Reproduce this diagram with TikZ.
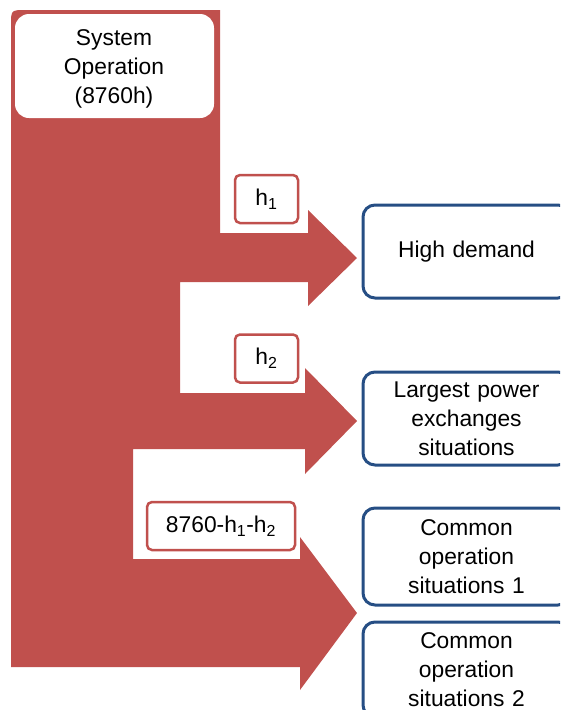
\documentclass[tikz,border=0pt]{standalone}
\usepackage{fontspec}
\setmainfont{Liberation Sans}
\usetikzlibrary{arrows,calc,positioning}
\definecolor{flowred}{RGB}{192,80,77}
\definecolor{caseblue}{RGB}{38,78,132}
\tikzset{
	hourbox/.style={draw=flowred,line width=2.5pt,fill=white,rounded corners=5pt,align=center,inner sep=0pt,minimum height=48pt},
	casebox/.style={draw=caseblue,line width=3pt,fill=white,rounded corners=12pt,align=center,inner sep=0pt,minimum width=207pt,text width=200pt},
}

\begin{document}
\begin{tikzpicture}[x=1pt,y=-1pt,font=\fontsize{22.8}{29}\selectfont]
				\useasboundingbox (0,0) rectangle (560,710);
				\clip (0,0) rectangle (560,710);
				% red flow with the three arrows
				\fill[flowred] (26,10) -- (220,10) -- (220,233)
					-- (308,233) -- (308,210) -- (357,258) -- (308,306) -- (308,282) %h1
					-- (180,282) -- (180,393)
					-- (305,393) -- (305,368) -- (357,421) -- (305,474) -- (305,449) %h2
					-- (133,449) -- (133,559)
					-- (300,559) -- (300,537) -- (357,613) -- (300,690) -- (300,667) %rest
					-- (11,667) -- (11,25) .. controls (11,10) .. (26,10) -- cycle;
				\fill[white,rounded corners=14pt] (15,14) rectangle (214,118);
				\node[align=center] (sys) at (114,68.5) {System\\Operation\\(8760h)};
				\node[hourbox,minimum width=63pt] (h1) at (266.5,199) {h\textsubscript{1}};
				\node[hourbox,minimum width=63pt] (h2) at (266.5,358.5) {h\textsubscript{2}};
				\node[hourbox,minimum width=148pt] (hrest) at (221,526) {8760-h\textsubscript{1}-h\textsubscript{2}};
				\node[casebox,minimum height=93pt] (high) at (466.5,251.5) {High demand};
				\node[casebox,minimum height=93pt] (exch) at (466.5,418.5) {Largest power\\exchanges\\situations};
				\node[casebox,minimum height=97pt] (com1) at (466.5,556.5) {Common\\operation\\situations 1};
				\node[casebox,minimum height=95pt] (com2) at (466.5,669.5) {Common\\operation\\situations 2};
	\end{tikzpicture}
\end{document}
